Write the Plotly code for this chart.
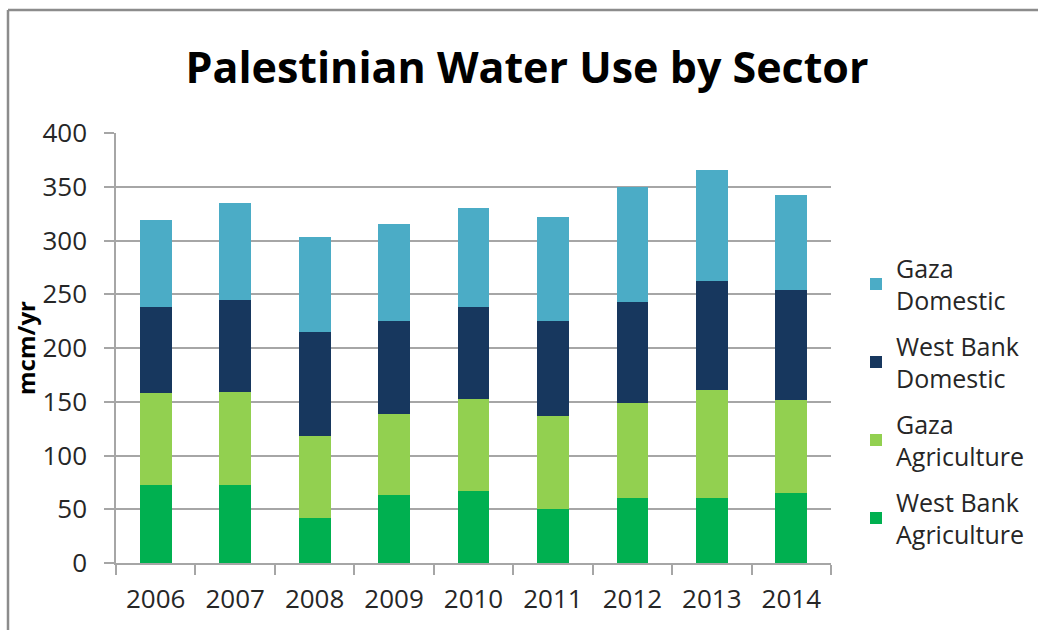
import plotly.graph_objects as go

years = ["2006", "2007", "2008", "2009", "2010", "2011", "2012", "2013", "2014"]

# mcm/yr by sector, bottom of the stack first
wb_agriculture = [72.5, 72.5, 41.5, 63.6, 67.3, 50.5, 60.8, 60.8, 64.8]
gaza_agriculture = [85.3, 86.5, 76.3, 74.7, 85.2, 86.5, 88.0, 99.8, 86.5]
wb_domestic = [80.3, 85.3, 96.7, 86.5, 85.6, 87.8, 94.2, 101.7, 102.3]
gaza_domestic = [81.2, 90.2, 89.0, 90.5, 92.4, 96.7, 106.7, 103.2, 88.9]

# (legend label, values, colour, legend position from the top)
series = [
    ("West Bank<br>Agriculture", wb_agriculture, "#00B050", 4),
    ("Gaza<br>Agriculture", gaza_agriculture, "#92D050", 3),
    ("West Bank<br>Domestic", wb_domestic, "#17375E", 2),
    ("Gaza<br>Domestic", gaza_domestic, "#4BACC6", 1),
]

y_ticks = [0, 50, 100, 150, 200, 250, 300, 350, 400]

font_family = "Open Sans, Noto Sans, sans-serif"
grid = "#A6A6A6"

fig = go.Figure()
for i, (name, vals, color, rank) in enumerate(series):
    fig.add_trace(go.Bar(
        x=years, y=vals, name=name, legendgroup=f"g{i}", legendrank=rank,
        marker=dict(color=color, line=dict(width=0)),
    ))

fig.update_layout(
    width=1038, height=630,
    barmode="stack", bargap=0.6,
    plot_bgcolor="white", paper_bgcolor="white",
    margin=dict(l=116, r=207, t=133, b=67),
    font=dict(family=font_family, color="#262626"),
    title=dict(
        text="<b>Palestinian Water Use by Sector</b>",
        x=527 / 1038, xref="container", xanchor="center",
        y=1 - 68 / 630, yref="container", yanchor="middle",
        font=dict(size=43, color="black", family=font_family),
    ),
    legend=dict(
        traceorder="grouped", tracegroupgap=10,
        xref="container", x=856 / 1038, xanchor="left",
        yref="container", y=1 - 401 / 630, yanchor="middle",
        maxheight=600,
        font=dict(size=25, color="#262626"),
        bgcolor="rgba(0,0,0,0)",
        itemwidth=30,
    ),
    xaxis=dict(
        type="category", tickson="boundaries",
        ticks="outside", ticklen=10, tickcolor=grid, tickwidth=1.5,
        showline=True, linecolor=grid, linewidth=1.5,
        showgrid=False,
        tickfont=dict(size=26),
        ticklabelstandoff=12,
    ),
    yaxis=dict(
        range=[0, 400], tickvals=y_ticks,
        ticks="outside", ticklen=10, tickcolor=grid, tickwidth=1.5,
        showline=True, linecolor=grid, linewidth=1.5,
        showgrid=True, gridcolor=grid, gridwidth=1.5,
        zeroline=False,
        tickfont=dict(size=26),
        ticklabelstandoff=12,
        title=dict(text="<b>mcm/yr</b>", font=dict(size=24, color="black"), standoff=0),
    ),
)

# frame lines along the top and left edges of the chart area
fig.add_shape(type="line", xref="paper", yref="paper",
              x0=(8 - 116) / 715, x1=2.0, y0=1 + (133 - 10) / 430, y1=1 + (133 - 10) / 430,
              line=dict(color="#8C8C8C", width=2.5))
fig.add_shape(type="line", xref="paper", yref="paper",
              x0=(8 - 116) / 715, x1=(8 - 116) / 715, y0=1 + (133 - 10) / 430, y1=-1.0,
              line=dict(color="#8C8C8C", width=2.5))

fig.write_html("out.html")
